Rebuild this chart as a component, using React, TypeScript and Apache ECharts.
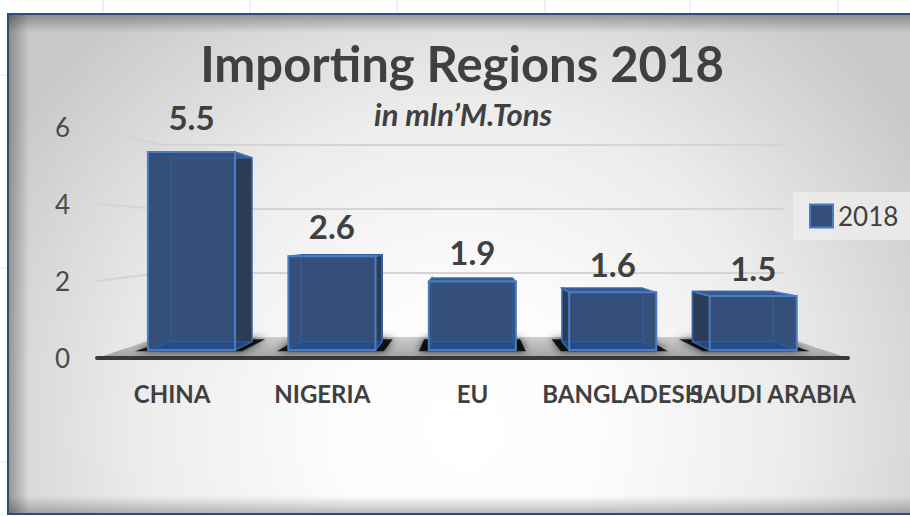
import React, { useEffect, useRef } from 'react';
import * as echarts from 'echarts';

const categories = ['CHINA', 'NIGERIA', 'EU', 'BANGLADESH', 'SAUDI ARABIA'];
const values2018 = [5.5, 2.6, 1.9, 1.6, 1.5];
const seriesName = '2018';
const gridTicks = [2, 4, 6];
const titleText = 'Importing Regions 2018';
const subtitleText = 'in mln’M.Tons';

const FONT = 'Lato, "Open Sans", "DejaVu Sans", sans-serif';
const TEXT = '#404040';
const FRONT = '#34507a';
const SIDE = '#2a3c58';
const TOPC = '#3b5a8b';
const BOTTOMC = '#1f4a8a';
const EDGE = '#4a7cc2';
const INNER = '#2e5c9e';

// perspective parameters (vanishing point as fraction of the grid, depth scales)
const VPX = 0.4967;
const VPY = 0.463;
const S_FRONT = 0.935;
const S_BACK = 0.868;
const S_WALL = 0.831;
const S_LABEL = 0.98;
const BAR_HALF = 0.31;

export default function App() {
  const ref = useRef<HTMLDivElement>(null);

  useEffect(() => {
    document.body.style.margin = '0';
    const chart = echarts.init(ref.current as HTMLDivElement, null, { renderer: 'svg' });

    const vpOf = (cs: any) => [cs.x + cs.width * VPX, cs.y + cs.height * VPY];
    const proj = (x: number, y: number, s: number, v: number[]) => [v[0] + (x - v[0]) * s, v[1] + (y - v[1]) * s];

    const gridRender = (params: any, api: any) => {
      const cs = params.coordSys;
      const v = vpOf(cs);
      const y = api.coord([0, api.value(1)])[1];
      const xl = cs.x;
      const xr = cs.x + cs.width;
      return {
        type: 'polyline',
        shape: { points: [[xl, y], proj(xl, y, S_WALL, v), proj(xr, y, S_WALL, v)] },
        style: { stroke: '#d4d4d4', lineWidth: 2, fill: 'none' },
      };
    };

    const floorRender = (params: any, api: any) => {
      const cs = params.coordSys;
      const v = vpOf(cs);
      const y0 = api.coord([0, 0])[1];
      const xl = cs.x;
      const xr = cs.x + cs.width;
      const pts = [[xl, y0], [xr, y0], proj(xr, y0, S_WALL, v), proj(xl, y0, S_WALL, v)];
      return {
        type: 'group',
        children: [
          {
            type: 'polygon',
            shape: { points: pts },
            style: {
              fill: new echarts.graphic.LinearGradient(0, 0, 0, 1, [
                { offset: 0, color: '#cdcdcd' },
                { offset: 1, color: '#a2a2a2' },
              ]),
            },
          },
          {
            type: 'line',
            shape: { x1: xl, y1: y0, x2: xr, y2: y0 },
            style: { stroke: '#3a3a3a', lineWidth: 4, lineCap: 'round' },
          },
        ],
      };
    };

    const barRender = (params: any, api: any) => {
      const cs = params.coordSys;
      const v = vpOf(cs);
      const idx = api.value(0);
      const val = api.value(1);
      const top = api.coord([idx, val]);
      const base = api.coord([idx, 0]);
      const half = api.size([1, 0])[0] * BAR_HALF;
      const L = top[0] - half;
      const R = top[0] + half;
      const T = top[1];
      const B = base[1];
      const f = (x: number, y: number) => proj(x, y, S_FRONT, v);
      const k = (x: number, y: number) => proj(x, y, S_BACK, v);
      const FLT = f(L, T), FRT = f(R, T), FRB = f(R, B), FLB = f(L, B);
      const KLT = k(L, T), KRT = k(R, T), KRB = k(R, B), KLB = k(L, B);
      const leftOfVP = top[0] < v[0];
      const side = leftOfVP ? [FRT, KRT, KRB, FRB] : [FLT, KLT, KLB, FLB];
      const shadowPts = [
        proj(L - 10, B, S_FRONT + 0.01, v),
        proj(R + 10, B, S_FRONT + 0.01, v),
        proj(R + 10, B, S_BACK - 0.02, v),
        proj(L - 10, B, S_BACK - 0.02, v),
      ];
      const line = (a: number[], b: number[], color: string, w: number, op = 1) => ({
        type: 'line',
        shape: { x1: a[0], y1: a[1], x2: b[0], y2: b[1] },
        style: { stroke: color, lineWidth: w, opacity: op },
      });
      const labelPos = proj(top[0], T - 32, S_LABEL, v);
      const labelX = (FLT[0] + FRT[0]) / 2;
      return {
        type: 'group',
        children: [
          {
            type: 'polygon',
            shape: { points: shadowPts },
            style: { fill: 'rgba(0,0,0,0.85)', shadowBlur: 9, shadowColor: 'rgba(0,0,0,0.9)' },
          },
          { type: 'polygon', shape: { points: side }, style: { fill: SIDE, stroke: EDGE, lineWidth: 1.5 } },
          { type: 'polygon', shape: { points: [FLT, FRT, KRT, KLT] }, style: { fill: TOPC, stroke: EDGE, lineWidth: 1.5 } },
          { type: 'polygon', shape: { points: [FLT, FRT, FRB, FLB] }, style: { fill: FRONT } },
          { type: 'polygon', shape: { points: [FLB, FRB, KRB, KLB] }, style: { fill: BOTTOMC, opacity: 0.7 } },
          line(KLT, KRT, INNER, 1.5, 0.85),
          line(KLT, KLB, INNER, 1.5, 0.85),
          line(KRT, KRB, INNER, 1.5, 0.85),
          line(KLB, KRB, INNER, 1.5, 0.85),
          line(FLB, KLB, INNER, 1.5, 0.85),
          line(FRB, KRB, INNER, 1.5, 0.85),
          { type: 'polygon', shape: { points: [FLT, FRT, FRB, FLB] }, style: { fill: 'none', stroke: EDGE, lineWidth: 2 } },
          {
            type: 'text',
            x: labelX,
            y: labelPos[1],
            style: {
              text: String(val),
              fontFamily: FONT,
              fontSize: 33,
              fontWeight: 'bold',
              fill: TEXT,
              align: 'center',
              verticalAlign: 'middle',
              textAlign: 'center',
              textVerticalAlign: 'middle',
            },
          },
        ],
      };
    };

    const sheetV = [103, 250, 397, 545, 690, 838];
    const sheetH = [75, 268, 462];

    const option: any = {
      animation: false,
      graphic: [
        { type: 'rect', z: -30, silent: true, shape: { x: 0, y: 0, width: 910, height: 516 }, style: { fill: '#ffffff' } },
        ...sheetV.map((x) => ({ type: 'line', z: -29, silent: true, shape: { x1: x, y1: 0, x2: x, y2: 14 }, style: { stroke: '#dde4ec', lineWidth: 1 } })),
        ...sheetH.map((y) => ({ type: 'line', z: -29, silent: true, shape: { x1: 0, y1: y, x2: 8, y2: y }, style: { stroke: '#dde4ec', lineWidth: 1 } })),
        {
          type: 'rect',
          z: -20,
          silent: true,
          shape: { x: 8, y: 14, width: 920, height: 500 },
          style: {
            fill: new echarts.graphic.RadialGradient(465, 430, 540, [
              { offset: 0, color: '#ffffff' },
              { offset: 0.25, color: '#fcfcfc' },
              { offset: 0.6, color: '#ececec' },
              { offset: 1, color: '#c9c9c9' },
            ], true),
            stroke: '#2b4d80',
            lineWidth: 2,
          },
        },
        {
          type: 'rect', z: -19, silent: true,
          shape: { x: 9, y: 15, width: 920, height: 18 },
          style: { fill: new echarts.graphic.LinearGradient(0, 0, 0, 1, [{ offset: 0, color: 'rgba(0,0,0,0.3)' }, { offset: 1, color: 'rgba(0,0,0,0)' }]) },
        },
        {
          type: 'rect', z: -19, silent: true,
          shape: { x: 9, y: 15, width: 20, height: 498 },
          style: { fill: new echarts.graphic.LinearGradient(0, 0, 1, 0, [{ offset: 0, color: 'rgba(0,0,0,0.3)' }, { offset: 1, color: 'rgba(0,0,0,0)' }]) },
        },
        {
          type: 'rect', z: -19, silent: true,
          shape: { x: 9, y: 496, width: 920, height: 17 },
          style: { fill: new echarts.graphic.LinearGradient(0, 0, 0, 1, [{ offset: 0, color: 'rgba(0,0,0,0)' }, { offset: 1, color: 'rgba(0,0,0,0.25)' }]) },
        },
        {
          type: 'text', z: 10, x: 462, y: 63,
          style: {
            text: titleText, fontFamily: FONT, fontSize: 49, fontWeight: 'bold', fill: TEXT,
            align: 'center', verticalAlign: 'middle', textAlign: 'center', textVerticalAlign: 'middle',
          },
        },
        {
          type: 'text', z: 10, x: 463, y: 114,
          style: {
            text: subtitleText, fontFamily: FONT, fontSize: 31, fontWeight: 'bold', fontStyle: 'italic', fill: TEXT,
            align: 'center', verticalAlign: 'middle', textAlign: 'center', textVerticalAlign: 'middle',
          },
        },
      ],
      legend: {
        data: [{ name: seriesName, icon: 'rect', itemStyle: { color: FRONT, borderColor: EDGE, borderWidth: 2 } }],
        left: 793,
        top: 192,
        padding: [11, 14, 11, 16],
        itemWidth: 23,
        itemHeight: 23,
        backgroundColor: 'rgba(238,238,238,0.8)',
        selectedMode: false,
        textStyle: { fontFamily: FONT, fontSize: 26, color: TEXT },
      },
      grid: { left: 97, right: 62, top: 127, bottom: 158 },
      xAxis: {
        type: 'category',
        data: categories,
        axisLine: { show: false },
        axisTick: { show: false },
        splitLine: { show: false },
        axisLabel: { interval: 0, margin: 23, fontFamily: FONT, fontSize: 24, fontWeight: 'bold', color: TEXT },
      },
      yAxis: {
        type: 'value',
        min: 0,
        max: 6,
        interval: 2,
        axisLine: { show: false },
        axisTick: { show: false },
        splitLine: { show: false },
        axisLabel: { margin: 27, fontFamily: FONT, fontSize: 26, color: '#4a4a4a' },
      },
      series: [
        { type: 'custom', name: 'gridlines', z: 1, silent: true, renderItem: gridRender, data: gridTicks.map((t) => [0, t]) },
        { type: 'custom', name: 'floor', z: 2, silent: true, renderItem: floorRender, data: [[0, 0]] },
        {
          type: 'custom',
          name: seriesName,
          z: 3,
          silent: true,
          itemStyle: { color: FRONT, borderColor: EDGE, borderWidth: 2 },
          renderItem: barRender,
          data: values2018.map((v, i) => [i, v]),
        },
      ],
    };

    chart.setOption(option);
    return () => chart.dispose();
  }, []);

  return <div ref={ref} style={{ position: 'absolute', left: 0, top: 0, width: 910, height: 516 }} />;
}
